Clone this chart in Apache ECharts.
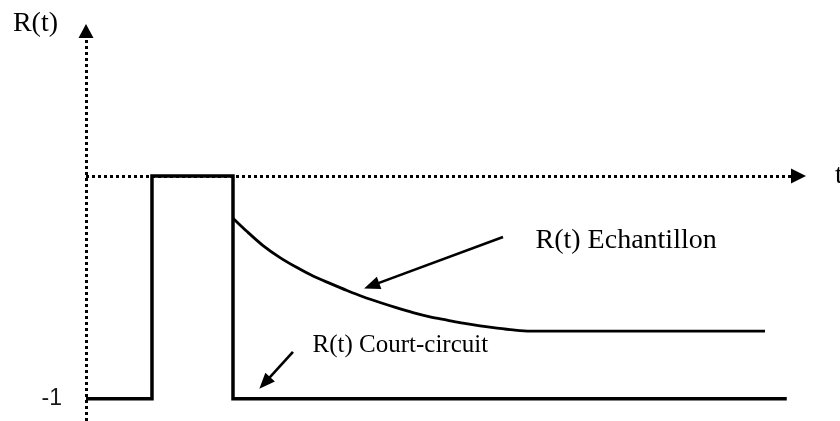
<!DOCTYPE html>
<html>
<head>
<meta charset="utf-8">
<script src="https://cdn.jsdelivr.net/npm/echarts@6/dist/echarts.min.js"></script>
<style>
  html, body { margin: 0; padding: 0; background: #ffffff; }
  #chart { width: 840px; height: 421px; }
</style>
</head>
<body>
<div id="chart"></div>
<script>
// Short-circuit response: pulse up to 0, then straight back down to -1
const shortCircuitT = [0, 0.936, 0.936, 2.085, 2.085, 9.94];
const shortCircuitR = [-1, -1, 0, 0, -1, -1];

// Sample response: relaxes from the drop towards a plateau
const sampleT = [2.085, 2.284, 2.511, 2.752, 2.993, 3.220, 3.461, 3.702, 3.929, 4.170,
                 4.411, 4.638, 4.879, 5.121, 5.348, 5.589, 5.830, 6.057, 6.298, 9.631];
const sampleR = [-0.189, -0.249, -0.312, -0.366, -0.411, -0.449, -0.482, -0.514, -0.542, -0.568,
                 -0.592, -0.613, -0.632, -0.647, -0.661, -0.673, -0.683, -0.691, -0.696, -0.696];

// Tick labels and texts
const yTickValues = [-1];
const xAxisName = 't';
const yAxisName = 'R(t)';
const sampleLabel = 'R(t) Echantillon';
const shortCircuitLabel = 'R(t) Court-circuit';

// Annotation arrows (tail -> head), in data units
const sampleArrow = [[5.915, -0.274], [4.051, -0.492]];
const shortCircuitArrow = [[2.936, -0.790], [2.535, -0.929]];
// Annotation text anchors (left / middle), in data units
const sampleLabelAt = [6.369, -0.290];
const shortCircuitLabelAt = [3.206, -0.762];

const ink = '#000000';
const serif = 'Liberation Serif';
const dottedAxis = { color: ink, width: 3, type: [3, 3], cap: 'butt' };

const chart = echarts.init(document.getElementById('chart'), null, { renderer: 'canvas' });

const textPoint = (coord, text, size) => ({
  coord: coord,
  symbol: 'circle',
  symbolSize: 1,
  itemStyle: { color: 'rgba(0,0,0,0)' },
  label: {
    show: true,
    position: 'right',
    distance: 0,
    formatter: text,
    fontFamily: serif,
    fontSize: size,
    color: ink
  }
});

chart.setOption({
  animation: false,
  backgroundColor: '#ffffff',
  grid: { left: 86, right: 49, top: 38, bottom: 0, containLabel: false, outerBoundsMode: 'none' },
  xAxis: {
    type: 'value',
    min: 0,
    max: 10,
    name: xAxisName,
    nameLocation: 'end',
    nameGap: 44,
    nameTextStyle: { fontFamily: serif, fontSize: 28, color: ink, align: 'left', verticalAlign: 'middle' },
    axisLine: {
      show: true,
      onZero: true,
      symbol: ['none', 'triangle'],
      symbolSize: [15, 15],
      symbolOffset: [0, 7.5],
      lineStyle: dottedAxis
    },
    axisTick: { show: false },
    axisLabel: { show: false },
    splitLine: { show: false }
  },
  yAxis: {
    type: 'value',
    min: -1.1,
    max: 0.62,
    name: yAxisName,
    nameLocation: 'end',
    nameGap: 14,
    nameTextStyle: {
      fontFamily: serif, fontSize: 28, color: ink,
      align: 'right', verticalAlign: 'middle', padding: [0, 28, 0, 0]
    },
    axisLine: {
      show: true,
      symbol: ['none', 'triangle'],
      symbolSize: [15, 14],
      symbolOffset: [0, 7],
      lineStyle: dottedAxis
    },
    axisTick: { show: false },
    axisLabel: {
      show: true,
      customValues: yTickValues,
      margin: 24,
      fontFamily: 'Liberation Sans',
      fontSize: 23,
      color: '#1a1a1a'
    },
    splitLine: { show: false }
  },
  series: [
    {
      name: shortCircuitLabel,
      type: 'line',
      data: shortCircuitT.map((t, i) => [t, shortCircuitR[i]]),
      symbol: 'none',
      lineStyle: { color: ink, width: 3.5, join: 'miter', cap: 'butt' },
      z: 3,
      silent: true
    },
    {
      name: sampleLabel,
      type: 'line',
      data: sampleT.map((t, i) => [t, sampleR[i]]),
      symbol: 'none',
      smooth: 0.3,
      lineStyle: { color: ink, width: 2.8 },
      z: 3,
      silent: true,
      markLine: {
        silent: true,
        symbol: ['none', 'triangle'],
        symbolSize: [13, 16],
        label: { show: false },
        lineStyle: { color: ink, width: 2.6, type: 'solid' },
        data: [
          [{ coord: sampleArrow[0] }, { coord: sampleArrow[1] }],
          [{ coord: shortCircuitArrow[0] }, { coord: shortCircuitArrow[1] }]
        ]
      },
      markPoint: {
        silent: true,
        data: [
          textPoint(sampleLabelAt, sampleLabel, 28),
          textPoint(shortCircuitLabelAt, shortCircuitLabel, 25)
        ]
      }
    }
  ]
});
</script>
</body>
</html>
